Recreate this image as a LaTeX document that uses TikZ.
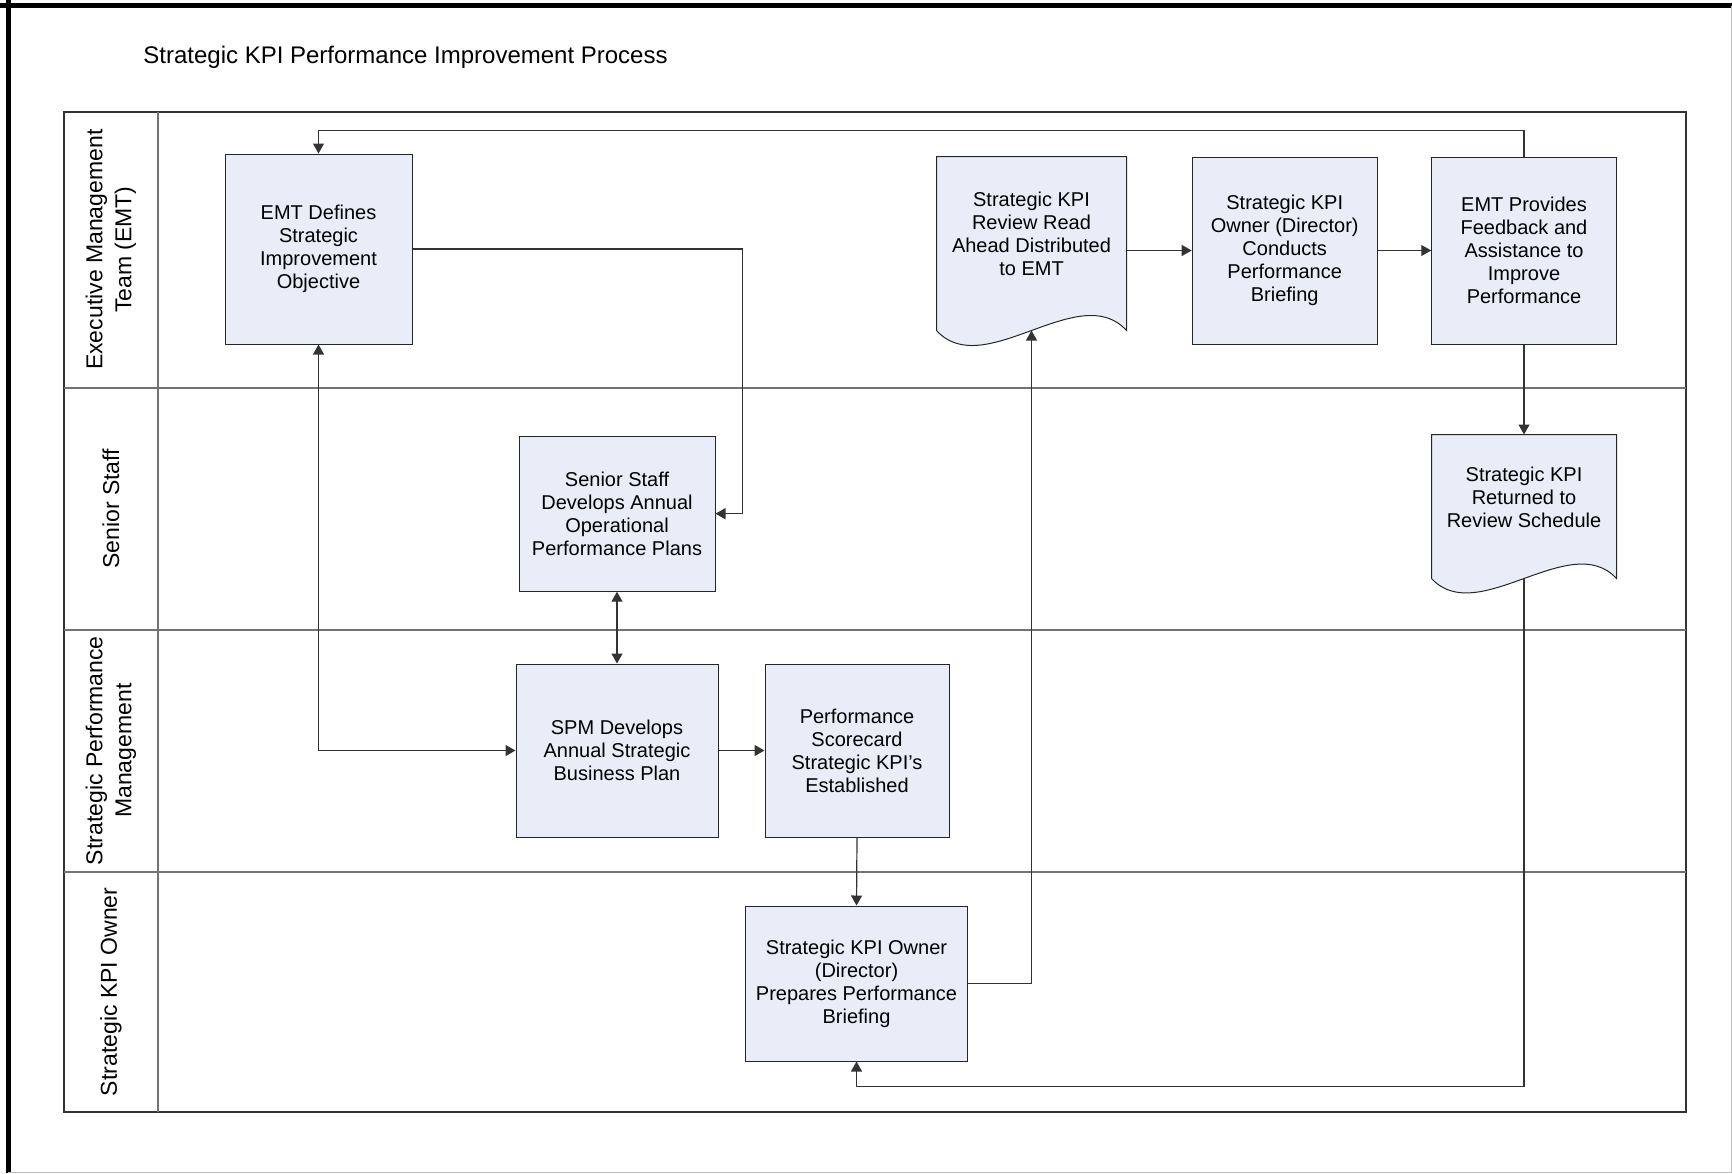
\documentclass[tikz,border=0pt]{standalone}
\usepackage{fontspec}
\setmainfont{Liberation Sans}
\usetikzlibrary{arrows.meta,calc,backgrounds}
\definecolor{taskfill}{RGB}{232,237,248}

\begin{document}
\begin{tikzpicture}[
        x=0.5pt, y=-0.5pt,
        task/.style={draw=black!85, fill=taskfill, line width=0.5pt, align=center, inner sep=2pt, font=\fontsize{10}{11.5}\selectfont},
        docnode/.style={task, draw=none, fill=none},
        docshape/.style={draw=black!85, fill=taskfill, line width=0.5pt},
        lanetext/.style={rotate=90, align=center, font=\fontsize{11.5}{14.5}\selectfont},
        lane/.style={draw=black!55, line width=1pt},
        flow/.style={-{Triangle[length=5pt,width=5.5pt]}, draw=black!80, line width=0.6pt},
        twoway/.style={{Triangle[length=5pt,width=5.5pt]}-{Triangle[length=5pt,width=5.5pt]}, draw=black!80, line width=0.6pt}
    ]
        \useasboundingbox (0,0) rectangle (1732,1173);

        % Page frame
        \draw[line width=2.5pt] (0,5.8) -- (1732,5.8);
        \draw[line width=2.4pt] (8.3,0) -- (8.3,1173);
        \draw[black!25, line width=0.5pt] (1731,5.8) -- (1731,1172) -- (8.3,1172);

        % Title
        \node[anchor=west, inner sep=0pt, font=\fontsize{12}{14}\selectfont] (title) at (143,57) {Strategic KPI Performance Improvement Process};

        % Pool and lanes
        \draw[lane, draw=black!80] (64,111.6) rectangle (1686,1112);
        \draw[lane] (158,111.6) -- (158,1112);
        \foreach \y in {387.7, 629.6, 871.5}
            \draw[lane] (64,\y) -- (1686,\y);

        \node[lanetext] (laneemt) at (111,249.7) {Executive Management\\Team (EMT)};
        \node[lanetext] (lanesenior) at (111,508.7) {Senior Staff};
        \node[lanetext] (lanespm) at (111,750.6) {Strategic Performance\\Management};
        \node[lanetext] (laneowner) at (111,991.8) {Strategic KPI Owner};

        % Tasks
        \node[task, minimum width=93.5pt, minimum height=95pt] (emt) at (318.5,249) {EMT Defines\\Strategic\\Improvement\\Objective};
        \node[docnode, minimum width=94.5pt, minimum height=77pt] (readahead) at (1031.5,234) {Strategic KPI\\Review Read\\Ahead Distributed\\to EMT};
        \node[task, minimum width=92.5pt, minimum height=93.5pt] (conducts) at (1284.7,250.5) {Strategic KPI\\Owner (Director)\\Conducts\\Performance\\Briefing};
        \node[task, minimum width=92.25pt, minimum height=93.5pt] (provides) at (1524,250.5) {EMT Provides\\Feedback and\\Assistance to\\Improve\\Performance};
        \node[docnode, minimum width=92pt, minimum height=62pt] (returned) at (1524,497) {Strategic KPI\\Returned to\\Review Schedule};
        \node[task, minimum width=98pt, minimum height=77.5pt] (senior) at (617,513.7) {Senior Staff\\Develops Annual\\Operational\\Performance Plans};
        \node[task, minimum width=101pt, minimum height=86.5pt] (spm) at (617,750.5) {SPM Develops\\Annual Strategic\\Business Plan};
        \node[task, minimum width=92pt, minimum height=86.5pt] (scorecard) at (857,750.5) {Performance\\Scorecard\\Strategic KPI’s\\Established};
        \node[task, minimum width=111pt, minimum height=77.5pt] (prepares) at (856.5,983.5) {Strategic KPI Owner\\(Director)\\Prepares Performance\\Briefing};

        % Document outlines
        \coordinate (readfoot) at ($(readahead.south)+(0,19)$);
        \coordinate (retfoot) at ($(returned.south)+(0,19)$);
        \begin{scope}[on background layer]
            \filldraw[docshape] (readahead.north west) -- (readahead.north east) -- ($(readahead.south east)+(0,19)$)
                .. controls +(-47,-52) and +(47,52) .. ($(readahead.south west)+(0,19)$) -- cycle;
            \filldraw[docshape] (returned.north west) -- (returned.north east) -- ($(returned.south east)+(0,19)$)
                .. controls +(-46,-50) and +(46,50) .. ($(returned.south west)+(0,19)$) -- cycle;
        \end{scope}

        % Flows
        \draw[flow] (provides.north) -- ++(0,-26.3) -| (emt.north);
        \draw[flow] (emt.east) -| ($(senior.east)+(27.3,0)$) -- (senior.east);
        \draw[twoway] (emt.south) |- (spm.west);
        \draw[twoway] (senior.south) -- (spm.north);
        \draw[flow] (spm.east) -- (scorecard.west);
        \draw[flow] (scorecard.south) -- (prepares.north);
        \draw[flow] (prepares.east) -| (readfoot);
        \draw[flow] (readahead.east |- conducts.west) -- (conducts.west);
        \draw[flow] (conducts.east) -- (provides.west);
        \draw[flow] (provides.south) -- (returned.north);
        \draw[flow] (retfoot) -- ++(0,508) -| (prepares.south);
\end{tikzpicture}
\end{document}
